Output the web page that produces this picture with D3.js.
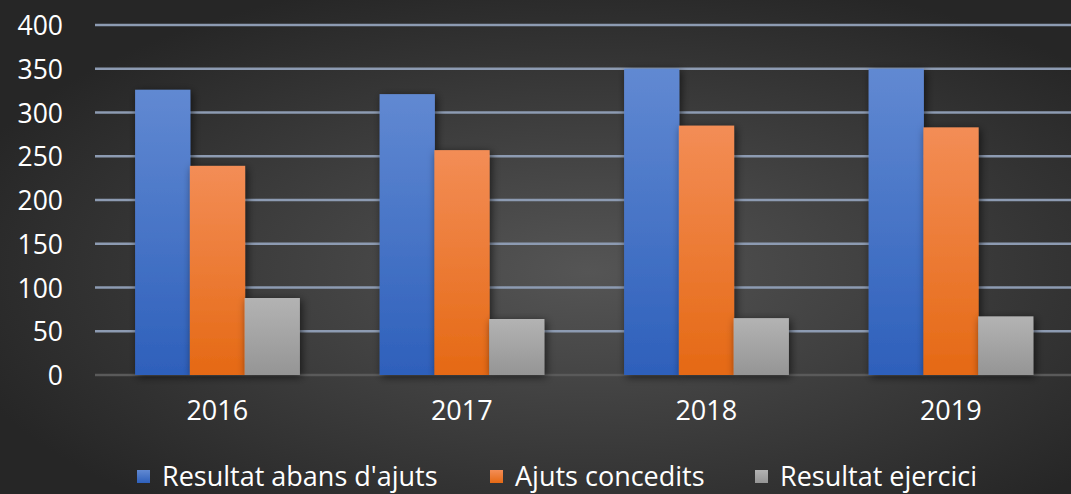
<!DOCTYPE html>
<html>
<head>
<meta charset="utf-8">
<script src="https://cdn.jsdelivr.net/npm/d3@7"></script>
<style>
  html, body { margin: 0; padding: 0; background: #2b2b2b; }
  svg { display: block; }
  text { font-family: "Open Sans", sans-serif; fill: #fff; }
</style>
</head>
<body>
<div id="chart"></div>
<script>
// data
var years = ["2016", "2017", "2018", "2019"]
var seriesNames = ["Resultat abans d'ajuts", "Ajuts concedits", "Resultat ejercici"]
var resultatAbans = [326, 321, 350, 350]
var ajutsConcedits = [239, 257, 285, 283]
var resultatEjercici = [88, 64, 65, 67]
var yTicks = [0, 50, 100, 150, 200, 250, 300, 350, 400]

var seriesValues = [resultatAbans, ajutsConcedits, resultatEjercici]
var colors = [
  {top: "#6189d2", bottom: "#2e60bb"},
  {top: "#f38d56", bottom: "#e56914"},
  {top: "#b3b3b3", bottom: "#959595"}
]

var W = 1071, H = 494
var margin = {top: 25, right: -2, bottom: 119, left: 95}
var width = W - margin.left - margin.right,
    height = H - margin.top - margin.bottom

var svg = d3.select("#chart").append("svg")
    .attr("width", W)
    .attr("height", H)

var defs = svg.append("defs")

// radial background
var bg = defs.append("radialGradient")
    .attr("id", "bg")
    .attr("cx", "55%").attr("cy", "55%").attr("r", "62%")
    .attr("gradientUnits", "objectBoundingBox")
bg.append("stop").attr("offset", "0%").attr("stop-color", "#555555")
bg.append("stop").attr("offset", "100%").attr("stop-color", "#262626")

colors.forEach(function(c, i) {
  var g = defs.append("linearGradient")
      .attr("id", "bar" + i)
      .attr("x1", 0).attr("y1", 0).attr("x2", 0).attr("y2", 1)
  g.append("stop").attr("offset", "0%").attr("stop-color", c.top)
  g.append("stop").attr("offset", "100%").attr("stop-color", c.bottom)
})

var shadow = defs.append("filter")
    .attr("id", "shadow")
    .attr("x", "-30%").attr("y", "-10%").attr("width", "160%").attr("height", "130%")
shadow.append("feDropShadow")
    .attr("dx", 2).attr("dy", 2)
    .attr("stdDeviation", 4)
    .attr("flood-color", "#000")
    .attr("flood-opacity", 0.6)

svg.append("rect")
    .attr("width", W).attr("height", H)
    .attr("fill", "url(#bg)")

var g = svg.append("g")
    .attr("transform", "translate(" + margin.left + "," + margin.top + ")")

// scales
var y = d3.scaleLinear().domain([0, 400]).range([height, 0])
var x = d3.scaleBand().domain(years).range([0, width]).padding(0)
var groupW = x.bandwidth() * 0.672
var xSub = d3.scaleBand()
    .domain(d3.range(seriesNames.length))
    .range([(x.bandwidth() - groupW) / 2, (x.bandwidth() + groupW) / 2])
    .padding(0)

// gridlines
g.selectAll(".grid")
  .data(yTicks.filter(function(d) { return d > 0 }))
  .enter().append("line")
    .attr("x1", 0).attr("x2", width)
    .attr("y1", function(d) { return y(d) })
    .attr("y2", function(d) { return y(d) })
    .attr("stroke", "#8d9bb2")
    .attr("stroke-width", 2.5)

// baseline
g.append("line")
    .attr("x1", 0).attr("x2", width)
    .attr("y1", y(0)).attr("y2", y(0))
    .attr("stroke", "#5a5a5a")
    .attr("stroke-width", 2.5)

// y axis labels
var yAxis = g.append("g")
    .call(d3.axisLeft(y).tickValues(yTicks).tickSize(0).tickPadding(32))
yAxis.select(".domain").remove()
yAxis.selectAll("text")
    .attr("font-family", "Open Sans, sans-serif")
    .attr("font-size", "26.5px")
    .attr("fill", "#fff")
    .attr("dy", "0.36em")

// x axis labels
var xAxis = g.append("g")
    .attr("transform", "translate(0," + height + ")")
    .call(d3.axisBottom(x).tickSize(0).tickPadding(26))
xAxis.select(".domain").remove()
xAxis.selectAll("text")
    .attr("font-family", "Open Sans, sans-serif")
    .attr("font-size", "27px")
    .attr("fill", "#fff")

// bars
var groups = g.selectAll(".year")
  .data(years)
  .enter().append("g")
    .attr("transform", function(d) { return "translate(" + x(d) + ",0)" })

groups.selectAll("rect")
  .data(function(d, i) {
    return seriesValues.map(function(vals, s) { return {s: s, v: vals[i]} })
  })
  .enter().append("rect")
    .attr("x", function(d) { return xSub(d.s) })
    .attr("width", xSub.bandwidth() + 0.5)
    .attr("y", function(d) { return y(d.v) })
    .attr("height", function(d) { return y(0) - y(d.v) })
    .attr("fill", function(d) { return "url(#bar" + d.s + ")" })
    .attr("filter", "url(#shadow)")

// legend
var legendX = [137, 490, 755]
var legend = svg.selectAll(".legend")
  .data(seriesNames)
  .enter().append("g")
    .attr("transform", function(d, i) { return "translate(" + legendX[i] + ",470)" })

legend.append("rect")
    .attr("width", 13).attr("height", 13)
    .attr("y", 0)
    .attr("fill", function(d, i) { return "url(#bar" + i + ")" })

legend.append("text")
    .attr("x", 25)
    .attr("y", 16)
    .attr("font-size", "27px")
    .text(function(d) { return d })
</script>
</body>
</html>
